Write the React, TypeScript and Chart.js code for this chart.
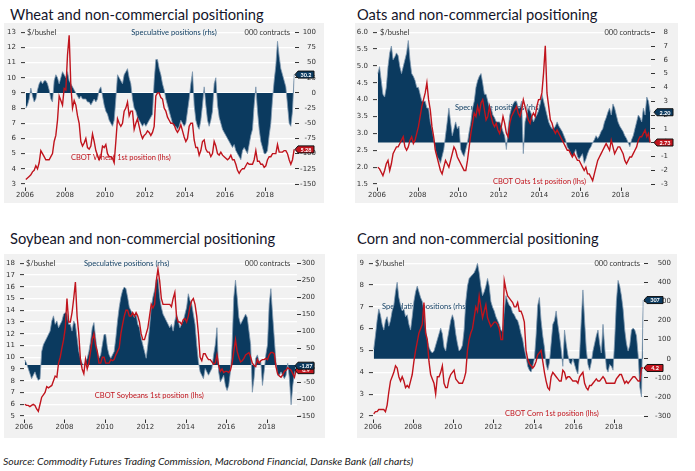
import React, { useEffect, useRef } from "react";
import { Chart, registerables } from "chart.js";

Chart.register(...registerables);

// ---------- categories (months Jan 2006 .. Jun 2019) ----------
const FIRST_YEAR = 2006;
const LAST_YEAR = 2019;
const LAST_MONTH = 6;
const MONTHS: string[] = [];
for (let y = FIRST_YEAR; y <= LAST_YEAR; y++) {
  for (let m = 1; m <= 12; m++) {
    if (y === LAST_YEAR && m > LAST_MONTH) break;
    MONTHS.push(`${y}-${String(m).padStart(2, "0")}`);
  }
}
const X_POS = MONTHS.map((s) => {
  const [y, m] = s.split("-").map(Number);
  return y + (m - 0.5) / 12;
});

const YEAR_TICKS = [2006, 2008, 2010, 2012, 2014, 2016, 2018];

// ---------- Wheat ----------
const WHEAT_PRICE = [
  3.3, 3.4, 3.5, 3.6, 3.8, 3.9, 4.2, 4.0, 4.4, 5.2, 5.0, 4.8,
  4.6, 4.6, 4.6, 4.8, 5.0, 5.8, 6.2, 7.2, 8.8, 8.5, 8.2, 9.3,
  9.2, 11.5, 12.8, 9.5, 8.0, 8.5, 8.2, 7.5, 7.0, 5.8, 5.5, 5.7,
  6.0, 5.4, 5.3, 5.5, 6.3, 5.8, 5.2, 4.9, 4.6, 4.8, 5.5, 5.4,
  5.6, 5.0, 4.8, 4.8, 4.7, 4.4, 5.8, 7.3, 7.0, 6.8, 7.0, 7.8,
  8.0, 8.4, 7.5, 7.8, 7.8, 6.6, 7.0, 7.3, 6.8, 6.3, 6.0, 6.2,
  6.3, 6.5, 6.4, 6.2, 6.4, 6.8, 8.8, 9.0, 9.0, 8.7, 8.6, 8.0,
  7.8, 7.4, 7.2, 7.0, 7.0, 6.9, 6.6, 6.4, 6.6, 6.9, 6.5, 6.1,
  5.8, 6.0, 6.8, 7.0, 7.0, 5.9, 5.4, 5.4, 4.9, 5.2, 5.8, 5.9,
  5.3, 5.1, 5.1, 4.8, 5.0, 5.8, 5.5, 5.0, 4.9, 5.1, 4.9, 4.8,
  4.7, 4.6, 4.7, 4.9, 4.6, 4.6, 4.3, 3.9, 3.7, 3.9, 4.0, 4.0,
  4.2, 4.4, 4.3, 4.3, 4.3, 4.6, 5.2, 4.5, 4.5, 4.3, 4.3, 4.1,
  4.2, 4.6, 4.8, 4.8, 5.0, 5.0, 5.0, 5.6, 5.1, 5.1, 5.1, 5.2,
  5.2, 5.0, 4.6, 4.3, 4.6, 5.28,
];
const WHEAT_SPEC = [
  -25, -20, -10, 8, -5, -15, -10, 5, 15, 20, 15, 20,
  20, 15, 5, -10, -15, 20, 30, 25, 15, 25, 35, 30,
  25, 35, 20, 15, 10, 5, 0, -5, -10, -5, -10, -10,
  -10, -15, -15, -20, -15, -10, -15, -10, 5, 10, -5, -20,
  -30, -35, -45, -50, -55, -45, -10, 30, 25, 20, 15, 30,
  35, 40, 25, 15, -10, -25, -30, -40, -45, -50, -55, -50,
  -55, -50, -45, -40, -35, 20, 55, 55, 40, 30, 15, 5,
  -10, -20, -30, -40, -50, -55, -55, -60, -55, -45, -50, -55,
  -50, -30, -10, 15, 35, -20, -45, -55, -60, -45, -20, 10,
  -20, -45, -55, -45, -30, 15, 25, -20, -40, -50, -60, -65,
  -70, -75, -80, -85, -90, -85, -95, -100, -105, -110, -95, -90,
  -95, -100, -85, -70, -60, -20, 10, -30, -60, -80, -90, -100,
  -100, -95, -70, -50, -10, 20, 45, 85, 60, 40, 30, 20,
  10, -20, -50, -55, -30, 30.2,
];
const WHEAT_LEFT_TICKS = [3, 4, 5, 6, 7, 8, 9, 10, 11, 12, 13];
const WHEAT_RIGHT_TICKS = [-150, -125, -100, -75, -50, -25, 0, 25, 50, 75, 100];

// ---------- Oats ----------
const OATS_PRICE = [
  2.0, 1.95, 1.85, 1.75, 1.9, 2.1, 2.2, 1.9, 2.1, 2.4, 2.5, 2.6,
  2.6, 2.7, 2.8, 2.9, 2.6, 2.5, 2.6, 2.8, 2.9, 2.7, 2.8, 3.0,
  3.2, 3.5, 3.8, 4.0, 4.2, 4.5, 4.0, 3.7, 3.2, 2.9, 2.5, 2.3,
  2.1, 1.9, 1.8, 2.0, 2.2, 2.1, 2.0, 2.2, 2.4, 2.6, 2.5, 2.3,
  2.2, 2.1, 2.0, 1.9, 1.9, 2.2, 2.6, 3.0, 3.3, 3.6, 3.5, 3.8,
  3.6, 3.9, 4.0, 3.7, 3.4, 3.5, 3.8, 3.5, 3.3, 3.2, 3.3, 3.1,
  3.0, 3.2, 3.5, 3.3, 3.0, 2.9, 3.3, 3.5, 3.6, 3.7, 3.8, 3.6,
  3.5, 3.7, 4.0, 3.8, 3.6, 3.4, 3.3, 3.5, 3.6, 3.5, 3.8, 4.0,
  4.0, 4.2, 4.8, 5.6, 4.2, 3.8, 3.4, 3.3, 3.1, 3.0, 3.1, 3.0,
  2.9, 2.8, 2.7, 2.6, 2.5, 2.5, 2.4, 2.3, 2.4, 2.3, 2.2, 2.2,
  2.1, 2.0, 1.9, 2.0, 1.8, 1.8, 1.7, 1.6, 1.8, 2.0, 2.2, 2.3,
  2.4, 2.5, 2.6, 2.7, 2.6, 2.5, 2.8, 2.6, 2.4, 2.5, 2.6, 2.6,
  2.5, 2.4, 2.2, 2.1, 2.2, 2.3, 2.3, 2.4, 2.5, 2.6, 2.8, 2.9,
  2.9, 3.0, 3.1, 2.9, 3.0, 2.73,
];
const OATS_SPEC = [
  5.0, 5.5, 4.5, 3.5, 3.3, 4.0, 5.5, 6.5, 7.0, 6.0, 6.2, 6.5,
  6.3, 5.5, 5.0, 5.5, 6.0, 6.5, 7.4, 6.0, 5.0, 4.8, 4.5, 4.0,
  4.0, 3.5, 3.0, 3.0, 3.0, 2.5, 2.5, 1.5, 1.0, 0.3, -0.5, -1.0,
  -1.2, -1.5, -1.0, -0.5, 0.5, 1.5, 2.5, 1.5, 0.5, 1.0, 1.5, 1.0,
  1.2, -0.5, -0.8, -1.0, -0.5, 0.0, 0.8, 1.5, 2.5, 3.0, 4.0, 4.5,
  4.8, 5.0, 4.3, 3.5, 3.5, 3.0, 2.5, 2.5, 2.0, 1.8, 1.5, 1.5,
  1.5, 1.2, 0.8, 0.5, -0.5, 1.0, 2.0, 2.5, 2.8, 3.0, 3.0, 2.5,
  2.5, 3.0, -0.8, 1.5, 2.0, 2.5, 2.3, 2.0, 1.5, 1.8, 2.0, 2.3,
  2.8, 3.5, 3.0, 2.5, 2.0, 1.5, 1.2, 1.0, 1.0, 1.2, 1.5, 1.2,
  1.0, 0.8, 0.5, 0.2, -0.3, -0.5, -0.8, -1.0, -0.8, -0.5, -1.0, -1.2,
  -1.0, -0.8, -1.5, -1.2, -0.8, -0.5, -0.3, 0.0, 0.2, 0.5, 0.3, 0.5,
  0.8, 1.0, 1.5, 1.8, 2.2, 2.5, 2.0, 2.8, 2.5, 2.0, 1.5, 1.2,
  1.0, 0.8, 0.5, 0.3, 0.0, -0.3, 0.2, 0.5, 1.0, 1.5, 2.0, 1.8,
  1.5, 2.5, 2.0, 3.3, 3.0, 2.2,
];
const OATS_LEFT_TICKS = [1.5, 2.0, 2.5, 3.0, 3.5, 4.0, 4.5, 5.0, 5.5, 6.0];
const OATS_RIGHT_TICKS = [-3, -2, -1, 0, 1, 2, 3, 4, 5, 6, 7, 8];

// ---------- Soybeans ----------
const SOY_PRICE = [
  6.0, 5.9, 5.9, 5.8, 5.9, 6.0, 5.9, 5.6, 5.4, 6.0, 6.6, 6.8,
  7.0, 7.5, 7.4, 7.5, 7.6, 8.0, 8.4, 8.3, 9.5, 10.0, 10.8, 11.5,
  12.5, 15.0, 13.0, 13.0, 13.8, 15.0, 16.4, 13.5, 12.0, 9.8, 9.0, 8.6,
  9.8, 9.0, 9.5, 10.5, 11.5, 12.0, 11.0, 10.5, 9.5, 9.5, 10.0, 10.0,
  9.5, 9.5, 9.5, 9.8, 9.7, 9.8, 10.2, 10.5, 10.8, 12.0, 12.8, 13.5,
  14.0, 14.0, 13.5, 13.5, 13.8, 13.5, 13.8, 13.5, 13.0, 12.0, 11.5, 11.5,
  12.0, 12.5, 13.5, 14.5, 14.2, 14.5, 16.5, 17.5, 16.5, 15.0, 14.5, 14.5,
  14.5, 14.5, 14.5, 14.3, 15.0, 15.5, 13.5, 13.0, 13.0, 12.8, 13.2, 13.3,
  13.0, 13.5, 14.3, 14.8, 15.0, 14.5, 13.5, 12.0, 10.0, 9.7, 10.3, 10.3,
  10.0, 9.8, 9.8, 9.6, 9.4, 9.5, 10.2, 9.3, 8.8, 9.0, 8.7, 8.8,
  8.8, 8.7, 8.9, 9.5, 10.5, 11.5, 10.5, 10.0, 9.6, 9.7, 9.9, 10.2,
  10.3, 10.4, 10.0, 9.5, 9.3, 9.2, 9.8, 9.5, 9.7, 9.8, 9.8, 9.9,
  9.8, 10.2, 10.4, 10.4, 10.3, 9.2, 8.6, 8.4, 8.3, 8.5, 8.8, 8.9,
  9.1, 9.0, 8.9, 8.6, 8.3, 8.9,
];
const SOY_SPEC = [
  15, 5, -10, -25, -40, -30, -20, -35, -45, -40, 40, 60,
  70, 80, 90, 100, 130, 145, 120, 130, 110, 120, 130, 150,
  155, 150, 120, 120, 100, 130, 120, 80, 40, 20, 5, 0,
  10, 20, 40, 70, 110, 125, 80, 40, 20, 30, 60, 90,
  90, 50, 30, 20, 30, 40, 80, 130, 170, 200, 220, 230,
  225, 200, 170, 160, 150, 140, 150, 120, 110, 80, 60, 40,
  20, 60, 110, 170, 200, 220, 250, 255, 200, 170, 150, 140,
  130, 120, 110, 120, 100, 130, 150, 130, 110, 120, 130, 150,
  170, 210, 190, 180, 150, 120, 60, 10, -20, -30, -40, -10,
  -20, -30, -20, -10, 30, 60, 110, -20, -50, -40, -30, -60,
  -75, -60, -20, 60, 200, 250, 200, 140, 120, 130, 140, 150,
  140, 100, 60, -80, -40, 20, 30, 10, 10, -60, -20, 30,
  60, 180, 225, 150, 80, 10, -30, -30, -20, -30, -40, -30,
  5, -40, -117, -60, -25, -1.87,
];
const SOY_LEFT_TICKS = [5, 6, 7, 8, 9, 10, 11, 12, 13, 14, 15, 16, 17, 18];
const SOY_RIGHT_TICKS = [-150, -100, -50, 0, 50, 100, 150, 200, 250, 300];

// ---------- Corn ----------
const CORN_PRICE = [
  2.1, 2.2, 2.2, 2.3, 2.3, 2.3, 2.3, 2.2, 2.5, 3.1, 3.6, 3.8,
  4.0, 4.3, 4.2, 3.8, 3.6, 3.8, 3.6, 3.3, 3.4, 3.3, 3.6, 3.9,
  4.5, 5.0, 5.4, 5.8, 6.0, 6.2, 7.2, 5.8, 5.5, 4.5, 3.9, 3.7,
  3.5, 3.0, 3.8, 3.8, 4.0, 4.3, 3.5, 3.3, 3.3, 3.7, 3.9, 4.0,
  4.1, 3.7, 3.6, 3.5, 3.5, 3.5, 3.7, 4.0, 5.0, 5.5, 5.8, 6.0,
  6.5, 7.0, 6.8, 7.5, 7.0, 6.5, 6.8, 7.1, 6.5, 6.3, 6.1, 6.2,
  6.3, 6.3, 6.2, 6.0, 5.5, 5.5, 8.2, 7.8, 7.5, 7.4, 7.3, 7.2,
  7.0, 7.0, 7.2, 6.8, 6.8, 6.6, 6.3, 5.0, 4.6, 4.4, 4.3, 4.2,
  4.3, 4.5, 4.8, 4.9, 5.0, 4.5, 4.0, 3.6, 3.3, 3.2, 3.8, 4.0,
  3.9, 3.8, 3.7, 3.6, 3.6, 4.1, 4.0, 3.7, 3.8, 3.8, 3.7, 3.6,
  3.6, 3.6, 3.5, 3.8, 3.9, 4.0, 3.5, 3.3, 3.2, 3.4, 3.4, 3.5,
  3.6, 3.7, 3.6, 3.6, 3.7, 3.8, 3.7, 3.5, 3.5, 3.5, 3.5, 3.5,
  3.5, 3.7, 3.8, 3.9, 3.9, 3.7, 3.5, 3.6, 3.5, 3.6, 3.7, 3.8,
  3.8, 3.7, 3.6, 3.6, 4.2, 4.2,
];
const CORN_SPEC = [
  50, 120, 200, 260, 230, 180, 150, 200, 220, 170, 200, 250,
  280, 350, 400, 320, 280, 250, 260, 220, 230, 180, 150, 220,
  300, 350, 380, 350, 320, 300, 250, 150, 100, 60, 40, 30,
  40, 70, 100, 130, 160, 130, 60, 40, 100, 150, 200, 230,
  200, 130, 80, 40, 50, 70, 150, 300, 380, 420, 430, 440,
  450, 470, 500, 450, 380, 330, 350, 380, 420, 380, 300, 270,
  250, 220, 200, 180, 150, 140, 250, 330, 300, 280, 270, 240,
  230, 210, 200, 170, 130, 100, 50, 10, -40, -60, -70, -40,
  0, 120, 280, 320, 200, 120, 60, -30, -60, -20, 80, 180,
  200, 250, 180, 120, 50, -40, 150, 80, 20, -20, -30, 0,
  -30, -60, -80, 20, 200, 360, 200, 50, -30, -60, -20, 40,
  80, 120, 150, 80, 30, 180, 60, -50, -70, -30, -40, -60,
  100, 300, 410, 380, 330, 260, 150, 80, 40, 70, 150, 160,
  150, 120, 20, -150, -200, 307,
];
const CORN_LEFT_TICKS = [2, 3, 4, 5, 6, 7, 8, 9];
const CORN_RIGHT_TICKS = [-300, -200, -100, 0, 100, 200, 300, 400, 500];

// ---------- styles ----------
const BLUE = "#0b3a5f";
const BLUE_EDGE = "#7f98b0";
const RED = "#c0141d";
const TXT = "#333333";
const BG = "#f1f1f1";
const FONT = "Lato";
const TICK_FONT = "DejaVu Sans";

type Rect = { left: number; top: number; right: number; bottom: number };
type Ann = { text: string; x: number; y: number; align: CanvasTextAlign; color: string };
type PanelCfg = {
  title: string;
  titleLeft: number;
  titleTop: number;
  box: Rect;
  area: Rect;
  rightLabelEdge: number;
  labelGap: number;
  price: number[];
  spec: number[];
  leftTicks: number[];
  leftDecimals: number;
  rightTicks: number[];
  priceDecimals: number;
  specDecimals: number;
  annotations: Ann[];
};

const PANELS: PanelCfg[] = [
  {
    title: "Wheat and non-commercial positioning",
    titleLeft: 10, titleTop: 7,
    box: { left: 4, top: 23, right: 324, bottom: 203 },
    area: { left: 25, top: 32, right: 295, bottom: 184 },
    rightLabelEdge: 316, labelGap: 3,
    price: WHEAT_PRICE, spec: WHEAT_SPEC,
    leftTicks: WHEAT_LEFT_TICKS, leftDecimals: 0, rightTicks: WHEAT_RIGHT_TICKS,
    priceDecimals: 2, specDecimals: 1,
    annotations: [
      { text: "$/bushel", x: 2006.1, y: 13, align: "left", color: TXT },
      { text: "Speculative positions (rhs)", x: 2013.45, y: 12.95, align: "center", color: BLUE },
      { text: "000 contracts", x: 2019.25, y: 12.95, align: "right", color: TXT },
      { text: "CBOT Wheat 1st position (lhs)", x: 2008.3, y: 4.71, align: "left", color: RED },
    ],
  },
  {
    title: "Oats and non-commercial positioning",
    titleLeft: 357, titleTop: 7,
    box: { left: 355, top: 23, right: 678, bottom: 203 },
    area: { left: 377, top: 32, right: 651, bottom: 184 },
    rightLabelEdge: 668, labelGap: 6,
    price: OATS_PRICE, spec: OATS_SPEC,
    leftTicks: OATS_LEFT_TICKS, leftDecimals: 1, rightTicks: OATS_RIGHT_TICKS,
    priceDecimals: 2, specDecimals: 2,
    annotations: [
      { text: "$/bushel", x: 2006.15, y: 6.0, align: "left", color: TXT },
      { text: "000 contracts", x: 2019.45, y: 5.98, align: "right", color: TXT },
      { text: "Speculative positions (rhs)", x: 2009.84, y: 3.78, align: "left", color: BLUE },
      { text: "CBOT Oats 1st position (lhs)", x: 2011.71, y: 1.56, align: "left", color: RED },
    ],
  },
  {
    title: "Soybean and non-commercial positioning",
    titleLeft: 10, titleTop: 231,
    box: { left: 4, top: 254, right: 325, bottom: 438 },
    area: { left: 24, top: 263, right: 297, bottom: 416 },
    rightLabelEdge: 315, labelGap: 1,
    price: SOY_PRICE, spec: SOY_SPEC,
    leftTicks: SOY_LEFT_TICKS, leftDecimals: 0, rightTicks: SOY_RIGHT_TICKS,
    priceDecimals: 1, specDecimals: 2,
    annotations: [
      { text: "$/bushel", x: 2006.1, y: 18, align: "left", color: TXT },
      { text: "Speculative positions (rhs)", x: 2008.97, y: 17.95, align: "left", color: BLUE },
      { text: "000 contracts", x: 2019.17, y: 17.95, align: "right", color: TXT },
      { text: "CBOT Soybeans 1st position (lhs)", x: 2009.5, y: 6.7, align: "left", color: RED },
    ],
  },
  {
    title: "Corn and non-commercial positioning",
    titleLeft: 357, titleTop: 231,
    box: { left: 357, top: 254, right: 677, bottom: 438 },
    area: { left: 371, top: 263, right: 644, bottom: 416 },
    rightLabelEdge: 671, labelGap: 3,
    price: CORN_PRICE, spec: CORN_SPEC,
    leftTicks: CORN_LEFT_TICKS, leftDecimals: 0, rightTicks: CORN_RIGHT_TICKS,
    priceDecimals: 1, specDecimals: 0,
    annotations: [
      { text: "$/bushel", x: 2006.1, y: 9, align: "left", color: TXT },
      { text: "000 contracts", x: 2019.3, y: 8.98, align: "right", color: TXT },
      { text: "Speculative positions (rhs)", x: 2006.45, y: 6.99, align: "left", color: BLUE },
      { text: "CBOT Corn 1st position (lhs)", x: 2012.58, y: 2.09, align: "left", color: RED },
    ],
  },
];

function Panel({ cfg }: { cfg: PanelCfg }) {
  const ref = useRef<HTMLCanvasElement>(null);

  useEffect(() => {
    const canvas = ref.current;
    if (!canvas) return;
    const { box, area } = cfg;
    const tickFont = { family: TICK_FONT, size: 7 };

    const annPlugin = {
      id: "annText",
      beforeDatasetsDraw(chart: any) {
        const ctx = chart.ctx;
        const xs = chart.scales.x;
        const ys = chart.scales.y;
        ctx.save();
        ctx.font = `7.5px ${FONT}`;
        ctx.textBaseline = "middle";
        cfg.annotations.forEach((a) => {
          ctx.fillStyle = a.color;
          ctx.textAlign = a.align;
          ctx.fillText(a.text, xs.getPixelForValue(a.x), ys.getPixelForValue(a.y));
        });
        ctx.restore();
      },
    };

    const xTickMarks = {
      id: "xTickMarks",
      afterDraw(chart: any) {
        const ctx = chart.ctx;
        const xs = chart.scales.x;
        const b = chart.chartArea.bottom;
        ctx.save();
        ctx.strokeStyle = TXT;
        ctx.lineWidth = 1;
        YEAR_TICKS.forEach((v) => {
          const px = Math.round(xs.getPixelForValue(v)) + 0.5;
          ctx.beginPath();
          ctx.moveTo(px, b + 3.5);
          ctx.lineTo(px, b + 7);
          ctx.stroke();
        });
        ctx.restore();
      },
    };

    const endLabels = {
      id: "endLabels",
      afterDraw(chart: any) {
        const ctx = chart.ctx;
        const right = chart.chartArea.right;
        const lastPrice = cfg.price[cfg.price.length - 1];
        const lastSpec = cfg.spec[cfg.spec.length - 1];
        const items = [
          { py: chart.scales.y.getPixelForValue(lastPrice), text: lastPrice.toFixed(cfg.priceDecimals), fill: RED },
          { py: chart.scales.y1.getPixelForValue(lastSpec), text: lastSpec.toFixed(cfg.specDecimals), fill: BLUE },
        ];
        items.forEach((it) => {
          const x0 = right + cfg.labelGap;
          const w = 16;
          const h = 7;
          ctx.save();
          ctx.beginPath();
          ctx.moveTo(x0 - 3, it.py);
          ctx.lineTo(x0, it.py - h / 2);
          ctx.lineTo(x0 + w, it.py - h / 2);
          ctx.lineTo(x0 + w, it.py + h / 2);
          ctx.lineTo(x0, it.py + h / 2);
          ctx.closePath();
          ctx.fillStyle = it.fill;
          ctx.fill();
          ctx.strokeStyle = "#111";
          ctx.lineWidth = 1;
          ctx.stroke();
          ctx.fillStyle = "#fff";
          ctx.font = `bold 5.5px ${FONT}`;
          ctx.textAlign = "center";
          ctx.textBaseline = "middle";
          ctx.fillText(it.text, x0 + w / 2, it.py + 0.5);
          ctx.restore();
        });
      },
    };

    const chart = new Chart(canvas, {
      type: "line",
      data: {
        datasets: [
          {
            label: "price",
            data: X_POS.map((x, i) => ({ x, y: cfg.price[i] })),
            yAxisID: "y",
            borderColor: RED,
            borderWidth: 1.4,
            pointRadius: 0,
            fill: false,
            tension: 0,
          },
          {
            label: "spec",
            data: X_POS.map((x, i) => ({ x, y: cfg.spec[i] })),
            yAxisID: "y1",
            borderColor: BLUE_EDGE,
            backgroundColor: BLUE,
            borderWidth: 0.8,
            pointRadius: 0,
            fill: "origin",
            tension: 0,
          },
        ],
      },
      options: {
        responsive: false,
        animation: false,
        events: [],
        layout: {
          padding: {
            top: area.top - box.top,
            right: box.right - cfg.rightLabelEdge,
            left: 0,
            bottom: 0,
          },
        },
        plugins: { legend: { display: false }, tooltip: { enabled: false }, title: { display: false } },
        scales: {
          x: {
            type: "linear",
            min: 2006,
            max: 2019.5,
            grid: { display: false, drawTicks: false },
            border: { display: false },
            ticks: { font: tickFont, color: TXT, padding: 7, maxRotation: 0, autoSkip: false, callback: (v: any) => String(v) },
            afterBuildTicks: (s: any) => {
              s.ticks = YEAR_TICKS.map((v) => ({ value: v }));
            },
            afterFit: (s: any) => {
              s.height = box.bottom - area.bottom;
            },
          },
          y: {
            position: "left",
            min: cfg.leftTicks[0],
            max: cfg.leftTicks[cfg.leftTicks.length - 1],
            grid: { color: "#ffffff", lineWidth: 1.2, drawTicks: true, tickLength: 4, tickColor: TXT, tickWidth: 1 },
            border: { display: false },
            ticks: {
              font: tickFont, color: TXT, padding: 5, autoSkip: false,
              callback: (v: any) => Number(v).toFixed(cfg.leftDecimals),
            },
            afterBuildTicks: (s: any) => {
              s.ticks = cfg.leftTicks.map((v) => ({ value: v }));
            },
            afterFit: (s: any) => {
              s.width = area.left - box.left;
            },
          },
          y1: {
            position: "right",
            min: cfg.rightTicks[0],
            max: cfg.rightTicks[cfg.rightTicks.length - 1],
            grid: { drawOnChartArea: false, drawTicks: true, tickLength: 4, tickColor: TXT, tickWidth: 1 },
            border: { display: false },
            ticks: { font: tickFont, color: TXT, padding: 4, autoSkip: false, crossAlign: "far", callback: (v: any) => String(v) },
            afterBuildTicks: (s: any) => {
              s.ticks = cfg.rightTicks.map((v) => ({ value: v }));
            },
            afterFit: (s: any) => {
              s.width = cfg.rightLabelEdge - area.right;
            },
          },
        },
      } as any,
      plugins: [annPlugin, xTickMarks, endLabels],
    });
    return () => chart.destroy();
  }, [cfg]);

  const { box } = cfg;
  const w = box.right - box.left;
  const h = box.bottom - box.top;
  return (
    <>
      <div
        style={{
          position: "absolute",
          left: cfg.titleLeft,
          top: cfg.titleTop,
          fontFamily: FONT,
          fontSize: 14.7,
          lineHeight: "15px",
          color: "#15152a",
          whiteSpace: "nowrap",
        }}
      >
        {cfg.title}
      </div>
      <canvas
        ref={ref}
        width={w}
        height={h}
        style={{ position: "absolute", left: box.left, top: box.top, width: w, height: h, background: BG }}
      />
    </>
  );
}

export default function App() {
  return (
    <div style={{ position: "absolute", left: 0, top: 0, width: 695, height: 471, background: "#ffffff", overflow: "hidden" }}>
      {PANELS.map((p) => (
        <Panel key={p.title} cfg={p} />
      ))}
      <div
        style={{
          position: "absolute",
          left: 3,
          top: 456,
          fontFamily: FONT,
          fontStyle: "italic",
          fontSize: 10.4,
          lineHeight: "11px",
          color: "#222",
          whiteSpace: "nowrap",
        }}
      >
        Source: Commodity Futures Trading Commission, Macrobond Financial, Danske Bank (all charts)
      </div>
    </div>
  );
}
